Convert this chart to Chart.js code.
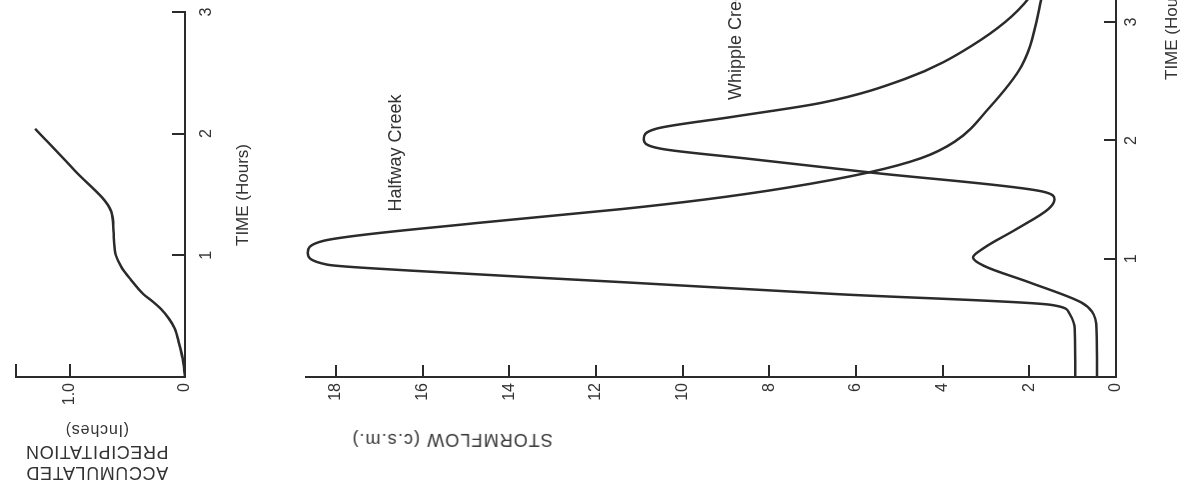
<!DOCTYPE html>
<html>
<head>
<meta charset="utf-8">
<script src="https://cdn.jsdelivr.net/npm/chart.js@4.4.1/dist/chart.umd.min.js"></script>
<style>
html, body { margin: 0; padding: 0; background: #fff; overflow: hidden; width: 1192px; height: 497px; }
/* the figure is drawn upright and then turned a quarter left, like the scan */
#page { position: absolute; left: 0; top: 0; width: 560px; height: 1192px; transform-origin: 0 0; transform: translateY(497px) rotate(-90deg); font-family: "Liberation Sans", Arial, sans-serif; color: #333; }
canvas { position: absolute; left: 0; }
.lbl { position: absolute; white-space: nowrap; line-height: 1; transform: translate(-50%, -50%); }
.lbl.up { transform: translate(-50%, -50%) rotate(-90deg); }
</style>
</head>
<body>
<div id="page">
	<canvas id="chartPrecip" width="560" height="240" style="top:0"></canvas>
	<canvas id="chartStorm" width="560" height="902" style="top:290px"></canvas>
</div>
<script>
// Accumulated precipitation (inches) against time (hours)
const precipTime = [0, 0.15, 0.27, 0.4, 0.48, 0.56, 0.62, 0.68, 0.8, 0.9, 1.0, 1.05, 1.2, 1.36, 1.7, 2.04];
const precipInches = [0, 0.02, 0.05, 0.09, 0.14, 0.21, 0.28, 0.36, 0.47, 0.55, 0.6, 0.61, 0.62, 0.64, 0.96, 1.3];

// Stormflow (c.s.m.) against time (hours)
const halfwayTime = [0, 0.4, 0.54, 0.61, 0.7, 0.8, 0.9, 0.95, 1.05, 1.15, 1.3, 1.42, 1.5, 1.6, 1.73, 1.85, 1.99, 2.27, 2.63, 3.2, 3.45];
const halfwayFlow = [0.94, 0.95, 1.08, 1.5, 6.4, 11.3, 16.3, 18.2, 18.65, 18.3, 14.8, 11.4, 9.5, 7.6, 5.7, 4.5, 3.72, 2.94, 2.18, 1.72, 1.6];
const whippleTime = [0, 0.4, 0.55, 0.63, 0.8, 0.94, 1.01, 1.09, 1.25, 1.42, 1.5, 1.57, 1.73, 1.85, 1.93, 2.01, 2.1, 2.2, 2.32, 2.52, 2.8, 3.2, 3.45];
const whippleFlow = [0.44, 0.45, 0.55, 0.8, 2.0, 3.05, 3.3, 3.05, 2.3, 1.56, 1.42, 1.72, 5.69, 8.6, 10.5, 10.9, 10.6, 8.84, 6.77, 4.87, 3.33, 2.02, 1.8];

// Tick values
const timeTicks = [1, 2, 3];
const stormTicks = [0, 2, 4, 6, 8, 10, 12, 14, 16, 18];
const precipTicks = [0, 1.0];

const INK = "#2b2b2b";
const TICK_FONT = { family: "'Liberation Sans', Arial, sans-serif", size: 16 };

// short tick marks pointing into the plot, as on the original
const inwardTicks = {
	id: "inwardTicks",
	afterDraw(chart, args, opts) {
		const { ctx, chartArea: a, scales } = chart;
		ctx.save();
		ctx.strokeStyle = INK;
		ctx.lineWidth = 2;
		ctx.beginPath();
		opts.xValues.forEach((v) => {
			const px = Math.round(scales.x.getPixelForValue(v));
			ctx.moveTo(px, a.bottom);
			ctx.lineTo(px, a.bottom - opts.length);
		});
		opts.yValues.forEach((v) => {
			const py = Math.round(scales.y.getPixelForValue(v));
			ctx.moveTo(a.left, py);
			ctx.lineTo(a.left + opts.length, py);
		});
		ctx.stroke();
		ctx.restore();
	},
};

function pairs(xs, ys) {
	return xs.map((x, i) => ({ x: x, y: ys[i] }));
}

function lineSet(xs, ys) {
	return {
		data: pairs(xs, ys),
		borderColor: INK,
		borderWidth: 2.5,
		pointRadius: 0,
		fill: false,
		cubicInterpolationMode: "monotone",
	};
}

function axisX(max, labelPad, height) {
	return {
		type: "linear",
		min: 0,
		max: max,
		grid: { display: false, drawTicks: false },
		border: { display: true, color: INK, width: 2 },
		afterBuildTicks: (s) => { s.ticks = timeTicks.map((v) => ({ value: v })); },
		afterFit: (s) => { s.height = height; },
		ticks: { color: "#333", font: TICK_FONT, padding: labelPad, maxRotation: 0, autoSkip: false },
	};
}

function axisY(max, values, fmt, labelPad) {
	return {
		type: "linear",
		min: 0,
		max: max,
		grid: { display: false, drawTicks: false },
		border: { display: true, color: INK, width: 2 },
		afterBuildTicks: (s) => { s.ticks = values.map((v) => ({ value: v })); },
		afterFit: (s) => { s.width = 120; },
		ticks: { color: "#333", font: TICK_FONT, padding: labelPad, autoSkip: false, callback: fmt },
	};
}

const precipMax = 1.47;
new Chart(document.getElementById("chartPrecip"), {
	type: "line",
	data: { datasets: [lineSet(precipTime, precipInches)] },
	options: {
		responsive: false,
		animation: false,
		layout: { padding: { top: 12, right: 75, left: 0, bottom: 0 } },
		plugins: {
			legend: { display: false },
			tooltip: { enabled: false },
			inwardTicks: { xValues: timeTicks, yValues: [1.0, precipMax], length: 13 },
		},
		scales: {
			x: axisX(3, 12, 55),
			y: axisY(precipMax, precipTicks, (v) => (v === 0 ? "0" : v.toFixed(1)), 6),
		},
	},
	plugins: [inwardTicks],
});

new Chart(document.getElementById("chartStorm"), {
	type: "line",
	data: { datasets: [lineSet(halfwayTime, halfwayFlow), lineSet(whippleTime, whippleFlow)] },
	options: {
		responsive: false,
		animation: false,
		layout: { padding: { top: 11, right: 0, left: 0, bottom: 0 } },
		plugins: {
			legend: { display: false },
			tooltip: { enabled: false },
			inwardTicks: { xValues: timeTicks, yValues: stormTicks.slice(1), length: 12 },
		},
		scales: {
			x: axisX(3.72, 6, 76),
			y: axisY(18.7, stormTicks, (v) => String(v), 6),
		},
	},
	plugins: [inwardTicks],
});

// titles and curve names, placed by centre in the upright figure
const page = document.getElementById("page");
function label(text, cx, cy, size, up, spacing) {
	const d = document.createElement("div");
	d.className = up ? "lbl up" : "lbl";
	d.textContent = text;
	d.style.left = cx + "px";
	d.style.top = cy + "px";
	d.style.fontSize = size + "px";
	if (spacing) d.style.letterSpacing = spacing + "px";
	page.appendChild(d);
}
label("Halfway Creek", 344, 395, 18, false);
label("Whipple Creek", 456, 735, 18, false);
label("TIME (Hours)", 302, 242, 17, false);
label("TIME (Hours)", 468, 1171, 17, false);
label("ACCUMULATED", 24, 97, 18, true, 0.6);
label("PRECIPITATION", 45, 97, 18, true, 0.6);
label("(Inches)", 67, 97, 16, true, 0.8);
label("STORMFLOW (c.s.m.)", 57, 452, 18, true, 1.1);
</script>
</body>
</html>
